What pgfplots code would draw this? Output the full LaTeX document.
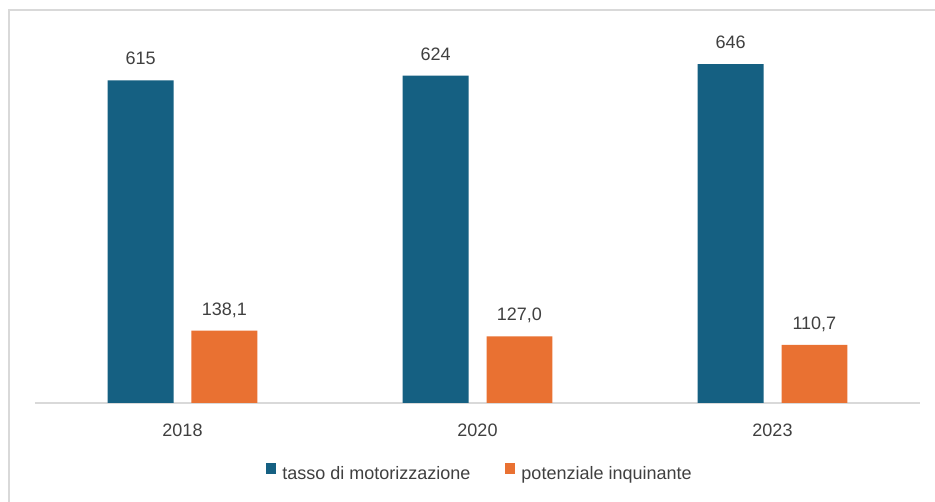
\documentclass[border=0pt]{standalone}
\usepackage{pgfplots}
\pgfplotsset{compat=1.18}
\usepackage{fontspec}
\setmainfont{Liberation Sans}
\definecolor{barblue}{HTML}{156082}
\definecolor{barorange}{HTML}{E97132}
\definecolor{txt}{HTML}{404040}
\definecolor{axgrey}{HTML}{D9D9D9}
\begin{document}
\begin{tikzpicture}[x=1pt,y=1pt]
\useasboundingbox (0,0) rectangle (935,502);
\fill[white] (0,0) rectangle (935,502);
\draw[axgrey, line width=1.5pt] (9,0) -- (9,492) -- (935,492);
\begin{axis}[
  at={(35pt,99pt)}, anchor=south west,
  scale only axis, width=885pt, height=383pt,
  xmin=-0.5, xmax=2.5, ymin=0, ymax=730,
  ybar,
  axis y line=none,
  axis x line*=bottom,
  x axis line style={draw=axgrey, line width=1.5pt, -},
  xtick={0,1,2}, xticklabels={2018,2020,2023},
  major tick length=0pt,
  /pgf/number format/assume math mode=true,
  xticklabel style={anchor=base, inner sep=0pt, yshift=-34pt, text=txt, font=\fontsize{18}{20}\selectfont},
  bar width=0.223,
  every node near coord/.append style={anchor=base, inner sep=0pt, yshift=15.5pt, text=txt, font=\fontsize{18}{20}\selectfont},
  legend columns=2,
  legend style={draw=none, fill=none, at={(0.5034,-0.185)}, anchor=center, inner sep=0pt,
    font=\fontsize{18}{20}\selectfont, text=txt,
    nodes={inner sep=3.5pt},
    /tikz/every even column/.append style={column sep=31pt}},
  legend image code/.code={\fill[#1,draw=none] (0pt,0pt) rectangle (10pt,11pt); \path (13pt,0pt);},
  clip=false,
]
\addplot[bar shift=-0.142, fill=barblue, draw=none,
  nodes near coords={\pgfmathprintnumber[fixed,precision=0,assume math mode=true]{\pgfplotspointmeta}}]
  coordinates {(0,615) (1,624) (2,646)};
\addplot[bar shift=0.142, fill=barorange, draw=none,
  nodes near coords={\pgfmathprintnumber[fixed,fixed zerofill,precision=1,use comma,assume math mode=true]{\pgfplotspointmeta}}]
  coordinates {(0,138.1) (1,127.0) (2,110.7)};
\legend{tasso di motorizzazione, potenziale inquinante}
\end{axis}
\end{tikzpicture}
\end{document}
